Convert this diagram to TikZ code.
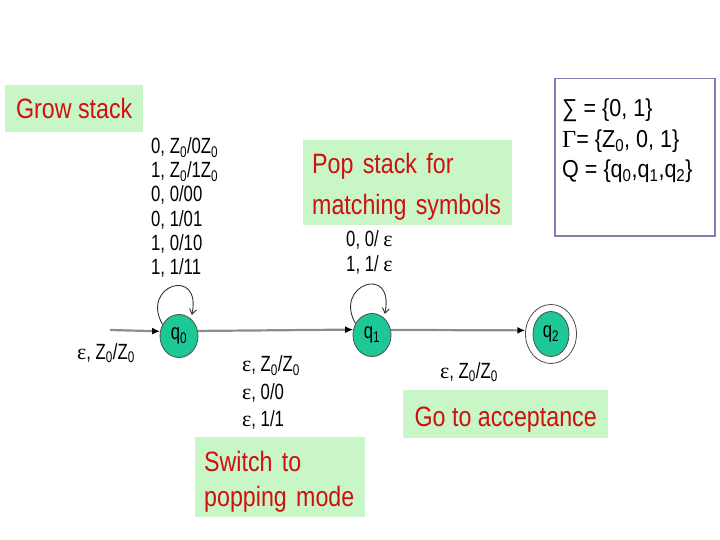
\documentclass[tikz,border=0pt]{standalone}
\usepackage{fontspec}
\setmainfont{Liberation Sans}
\newfontfamily\boxfont[FakeStretch=0.83]{Liberation Sans}
\newfontfamily\lblfont[FakeStretch=0.76]{Liberation Sans}
\newfontfamily\setfont[FakeStretch=0.88]{Liberation Sans}
\newfontfamily\serfont{Liberation Serif}
\usetikzlibrary{shapes.geometric,arrows.meta}
\definecolor{boxgreen}{RGB}{200,246,198}
\definecolor{boxred}{RGB}{208,16,16}
\definecolor{statefill}{RGB}{30,200,150}
\definecolor{edgegray}{RGB}{140,140,140}
\definecolor{framecol}{RGB}{128,128,176}
\newcommand\sbs[1]{\textsubscript{#1}}
\newcommand\eps{{\serfont ε}}
\newcommand\tallstrut[1]{\rule{0pt}{#1}}
\tikzset{
  state/.style={ellipse,draw=black!70,line width=0.8pt,fill=statefill,inner sep=0pt,
    minimum width=38pt,minimum height=43pt,font=\lblfont\fontsize{22}{24}\selectfont},
  greenbox/.style={fill=boxgreen,text=boxred,anchor=north west,inner sep=0pt,
    font=\boxfont\fontsize{28}{40}\selectfont},
  lbl/.style={anchor=west,inner sep=0pt,align=left,font=\lblfont\fontsize{22}{24.2}\selectfont},
  edge/.style={draw=edgegray,line width=2.2pt,-{Latex[color=black,length=8pt,width=7pt]}},
  loop/.style={draw=black!80,line width=0.9pt,-{Straight Barb[length=5pt,width=7pt]}},
  settext/.style={anchor=west,inner sep=0pt,font=\setfont\fontsize{24.5}{26}\selectfont}
}
\begin{document}
\begin{tikzpicture}[x=1pt,y=-1pt]
\useasboundingbox (0,0) rectangle (720,540);
% green comment boxes
\node[greenbox,minimum width=138pt,minimum height=47pt] (grow) at (5,85) {Grow stack};
\node[greenbox,minimum width=209pt,minimum height=85pt,text width=191pt,align=left,
  font=\boxfont\fontsize{28}{41}\selectfont] (pop) at (303,140) {\tallstrut{28.5pt}Pop stack for\\matching symbols};
\node[greenbox,minimum width=170pt,minimum height=80pt,text width=152pt,align=left,
  font=\boxfont\fontsize{28}{35}\selectfont] (switch) at (195,437) {\tallstrut{30pt}Switch to\\popping mode};
\node[greenbox,minimum width=205pt,minimum height=48pt] (goacc) at (403,390) {\tallstrut{31pt}Go to acceptance};
% set box
\node[draw=framecol,line width=1.5pt,anchor=north west,minimum width=160pt,minimum height=157pt,inner sep=0pt] (setbox) at (554,78) {};
\node[settext] (sig) at (562,110) {∑ = \{0, 1\}};
\node[settext] (gam) at (562,141) {{\serfont Γ}= \{Z\sbs{0}, 0, 1\}};
\node[settext] (qset) at (562,171) {Q = \{q\sbs{0},q\sbs{1},q\sbs{2}\}};
% states
\node[state] (q0) at (179,336) {q\sbs{0}};
\node[state] (q1) at (372,335) {q\sbs{1}};
\node[state,minimum width=36pt,minimum height=45pt] (q2) at (551,334) {q\sbs{2}};
\node[ellipse,draw=black!70,line width=0.8pt,minimum width=51pt,minimum height=59pt,inner sep=0pt] (q2o) at (551,334) {};
% edges
\coordinate (start) at (110,330);
\draw[edge] (start) -- (q0.166);
\draw[edge] (q0.15) -- (q1.164);
\draw[edge] (q1.15) -- (q2o.172);
% self loops
\draw[loop,shorten >=4pt] (q0.145) .. controls (140,285) and (202,266) .. (q0.55);
\draw[loop,shorten >=4pt] (q1.145) .. controls (333,285) and (395,263) .. (q1.55);
% labels
\node[lbl] (l0) at (151,207.5) {0, Z\sbs{0}/0Z\sbs{0}\\1, Z\sbs{0}/1Z\sbs{0}\\0, 0/00\\0, 1/01\\1, 0/10\\1, 1/11};
\node[lbl] (l1) at (346,252.5) {0, 0/ \eps\\1, 1/ \eps};
\node[lbl] (lin) at (77,353) {\eps, Z\sbs{0}/Z\sbs{0}};
\node[lbl,font=\lblfont\fontsize{22}{27.5}\selectfont] (l01) at (242,392.5) {\eps, Z\sbs{0}/Z\sbs{0}\\\eps, 0/0\\\eps, 1/1};
\node[lbl] (l12) at (440,372) {\eps, Z\sbs{0}/Z\sbs{0}};
\end{tikzpicture}
\end{document}
